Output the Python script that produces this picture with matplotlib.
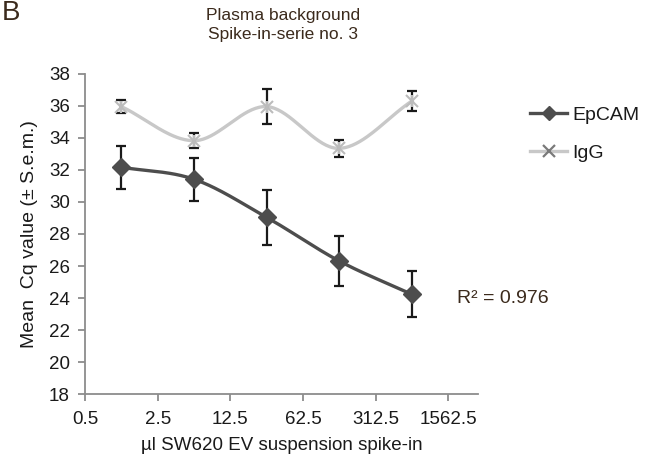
import numpy as np
import matplotlib
matplotlib.use("Agg")
import matplotlib.pyplot as plt
from matplotlib.lines import Line2D

plt.rcParams["font.family"] = ["Liberation Sans", "DejaVu Sans"]

# spike-in volumes (plotted on a base-5 log axis, points sit between ticks)
spike_in = [1.12, 5.59, 27.95, 139.75, 698.77]
x_ticks = [0.5, 2.5, 12.5, 62.5, 312.5, 1562.5]
x_tick_labels = ["0.5", "2.5", "12.5", "62.5", "312.5", "1562.5"]

epcam_cq = [32.17, 31.42, 29.04, 26.31, 24.23]
epcam_sem = [1.33, 1.33, 1.73, 1.58, 1.44]
igg_cq = [35.96, 33.83, 35.96, 33.35, 36.31]
igg_sem = [0.43, 0.47, 1.08, 0.52, 0.6]

EPCAM_COLOR = "#4d4d4d"
IGG_COLOR = "#c8c8c8"
BROWN = "#3b2a1c"


def smooth_curve(xs, ys, n=40):
    """Catmull-Rom through the points in log-x space (like Excel's smoothed line)."""
    lx = np.log10(xs)
    ys = np.asarray(ys, dtype=float)
    px = np.concatenate([[2 * lx[0] - lx[1]], lx, [2 * lx[-1] - lx[-2]]])
    py = np.concatenate([[2 * ys[0] - ys[1]], ys, [2 * ys[-1] - ys[-2]]])
    out_x, out_y = [], []
    t = np.linspace(0, 1, n)
    for i in range(1, len(px) - 2):
        p0x, p1x, p2x, p3x = px[i - 1:i + 3]
        p0y, p1y, p2y, p3y = py[i - 1:i + 3]
        cx = 0.5 * ((2 * p1x) + (-p0x + p2x) * t + (2 * p0x - 5 * p1x + 4 * p2x - p3x) * t**2
                    + (-p0x + 3 * p1x - 3 * p2x + p3x) * t**3)
        cy = 0.5 * ((2 * p1y) + (-p0y + p2y) * t + (2 * p0y - 5 * p1y + 4 * p2y - p3y) * t**2
                    + (-p0y + 3 * p1y - 3 * p2y + p3y) * t**3)
        out_x.append(cx)
        out_y.append(cy)
    return 10 ** np.concatenate(out_x), np.concatenate(out_y)


fig = plt.figure(figsize=(6.49, 4.68), dpi=100)
ax = fig.add_axes([0.131, 0.158, 0.606, 0.684])

# IgG
sx, sy = smooth_curve(spike_in, igg_cq)
ax.plot(sx, sy, color=IGG_COLOR, linewidth=2.4, zorder=2)
ax.errorbar(spike_in, igg_cq, yerr=igg_sem, fmt="none", ecolor="#1a1a1a",
            elinewidth=1.6, capsize=3.5, capthick=1.6, zorder=3)
for m in ("x", "|"):
    ax.plot(spike_in, igg_cq, linestyle="none", marker=m, markersize=9,
            markeredgewidth=1.5, color="#bcbcbc", zorder=4)

# EpCAM
sx, sy = smooth_curve(spike_in, epcam_cq)
ax.plot(sx, sy, color=EPCAM_COLOR, linewidth=2.4, zorder=2)
ax.errorbar(spike_in, epcam_cq, yerr=epcam_sem, fmt="none", ecolor="#1a1a1a",
            elinewidth=1.6, capsize=3.5, capthick=1.6, zorder=3)
ax.plot(spike_in, epcam_cq, linestyle="none", marker="D", markersize=9,
        color=EPCAM_COLOR, zorder=4)

ax.set_xscale("log")
ax.set_xlim(0.5, 3040)
ax.set_ylim(18, 38)
ax.set_xticks(x_ticks)
ax.set_xticklabels(x_tick_labels)
ax.xaxis.set_minor_locator(matplotlib.ticker.NullLocator())
ax.set_yticks(np.arange(18, 39, 2))

for side in ("top", "right"):
    ax.spines[side].set_visible(False)
for side in ("left", "bottom"):
    ax.spines[side].set_color("#8c8c8c")
    ax.spines[side].set_linewidth(1.3)
ax.tick_params(axis="both", colors="#8c8c8c", width=1.3, length=5,
               labelsize=13.5, labelcolor="#1a1a1a", direction="out")
ax.tick_params(axis="x", pad=7)
ax.tick_params(axis="y", pad=6)

ax.set_xlabel("µl SW620 EV suspension spike-in", fontsize=13.5, color="#1a1a1a", labelpad=7)
ax.set_ylabel("Mean  Cq value (± S.e.m.)", fontsize=14, color="#1a1a1a", labelpad=8)

fig.text(0.436, 0.983, "Plasma background\nSpike-in-serie no. 3", ha="center", va="top",
         fontsize=12.5, color=BROWN, linespacing=1.35)
fig.text(0.003, 1.0, "B", ha="left", va="top", fontsize=20, color=BROWN)
ax.text(0.947, 0.299, "R² = 0.976", transform=ax.transAxes, ha="left", va="center",
        fontsize=14, color=BROWN)

handles = [
    Line2D([], [], color=EPCAM_COLOR, linewidth=2.4, marker="D", markersize=7),
    Line2D([], [], color=IGG_COLOR, linewidth=2.4, marker="x", markersize=8,
           markeredgewidth=1.6, markeredgecolor="#7a7a7a"),
]
fig.legend(handles, ["EpCAM", "IgG"], loc="upper left", bbox_to_anchor=(0.79, 0.81),
           frameon=False, fontsize=14, handlelength=1.9, handletextpad=0.25,
           labelspacing=1.05, labelcolor="#1a1a1a")

fig.savefig("out.png", dpi=100)
